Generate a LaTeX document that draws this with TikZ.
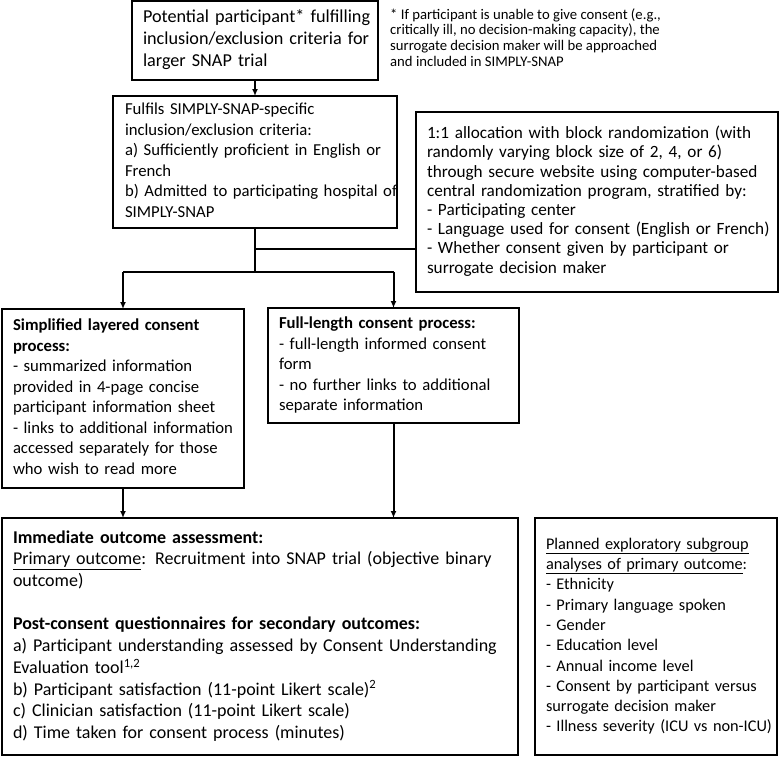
\documentclass[tikz,border=0pt]{standalone}
\usepackage{fontspec}
\setmainfont{Carlito}
\usetikzlibrary{arrows.meta}
\newcommand{\boxlines}[1]{\begin{tabular}{@{}l@{}}#1\end{tabular}}
\begin{document}
\begin{tikzpicture}[x=1pt,y=-1pt,
  box/.style={draw, line width=1.6pt, anchor=north west, align=left,
    inner xsep=11pt, inner ysep=0pt, outer sep=0pt},
  conn/.style={line width=2pt},
  arr/.style={conn, -{Latex[length=7pt,width=6pt]}}]
\useasboundingbox (0,0) rectangle (779,758);

% boxes
\node[box, text width=224pt, minimum height=79pt,
  font=\fontsize{18.2}{22}\selectfont] (b1) at (132,1)
  {\boxlines{Potential participant* fulfilling\\inclusion/exclusion criteria for\\larger SNAP trial}};

\node[box, inner xsep=12pt, text width=260pt, minimum height=132pt,
  font=\fontsize{16.7}{20.5}\selectfont] (b2) at (113,96)
  {\boxlines{Fulfils SIMPLY-SNAP-specific\\inclusion/exclusion criteria:\\a) Sufficiently proficient in English or\\French\\b) Admitted to participating hospital of\\SIMPLY-SNAP}};

\node[box, text width=340pt, minimum height=180pt,
  font=\fontsize{17.2}{19.2}\selectfont] (b3) at (416,112)
  {\boxlines{1:1 allocation with block randomization (with\\randomly varying block size of 2, 4, or 6)\\through secure website using computer-based\\central randomization program, stratified by:\\- Participating center\\- Language used for consent (English or French)\\- Whether consent given by participant or\\surrogate decision maker}};

\node[box, text width=220pt, minimum height=179pt,
  font=\fontsize{16.7}{20.5}\selectfont] (b4) at (2,309)
  {\boxlines{\textbf{Simplified layered consent}\\\textbf{process:}\\- summarized information\\provided in 4-page concise\\participant information sheet\\- links to additional information\\accessed separately for those\\who wish to read more}};

\node[box, text width=229pt, minimum height=115pt,
  font=\fontsize{16.7}{20.5}\selectfont] (b5) at (268,308)
  {\boxlines{\textbf{Full-length consent process:}\\- full-length informed consent\\form\\- no further links to additional\\separate information}};

\node[box, text width=494pt, minimum height=237pt,
  font=\fontsize{18}{21.7}\selectfont] (b6) at (2,518)
  {\boxlines{\textbf{Immediate outcome assessment:}\\\underline{Primary outcome}: Recruitment into SNAP trial (objective binary\\outcome)\\ \\\textbf{Post-consent questionnaires for secondary outcomes:}\\a) Participant understanding assessed by Consent Understanding\\Evaluation tool\textsuperscript{1,2}\\b) Participant satisfaction (11-point Likert scale)\textsuperscript{2}\\c) Clinician satisfaction (11-point Likert scale)\\d) Time taken for consent process (minutes)}};

\node[box, text width=220pt, minimum height=237pt,
  font=\fontsize{16.3}{20.3}\selectfont] (b7) at (535,518)
  {\boxlines{\underline{Planned exploratory subgroup}\\\underline{analyses of primary outcome}:\\- Ethnicity\\- Primary language spoken\\- Gender\\- Education level\\- Annual income level\\- Consent by participant versus\\surrogate decision maker\\- Illness severity (ICU vs non-ICU)}};

% footnote
\node[anchor=north west, inner sep=0pt, align=left,
  font=\fontsize{14.7}{15.7}\selectfont] (fn) at (390,8)
  {\boxlines{* If participant is unable to give consent (e.g.,\\critically ill, no decision-making capacity), the\\surrogate decision maker will be approached\\and included in SIMPLY-SNAP}};

% connectors
\coordinate (j1) at (255,249);
\coordinate (j2) at (255,272);
\coordinate (bl) at (123,272);
\coordinate (br) at (393.5,272);
\draw[arr] (b1.south) -- (b2.north);
\draw[conn] (b2.south) -- (j2);
\draw[conn] (bl) -- (br);
\draw[conn] (j1) -- (j1 -| b3.west);
\draw[arr] (bl) -- (bl |- b4.north);
\draw[arr] (br) -- (br |- b5.north);
\draw[arr] (b4.south) -- (b4.south |- b6.north);
\draw[arr] (b5.south) -- (b5.south |- b6.north);
\end{tikzpicture}
\end{document}
